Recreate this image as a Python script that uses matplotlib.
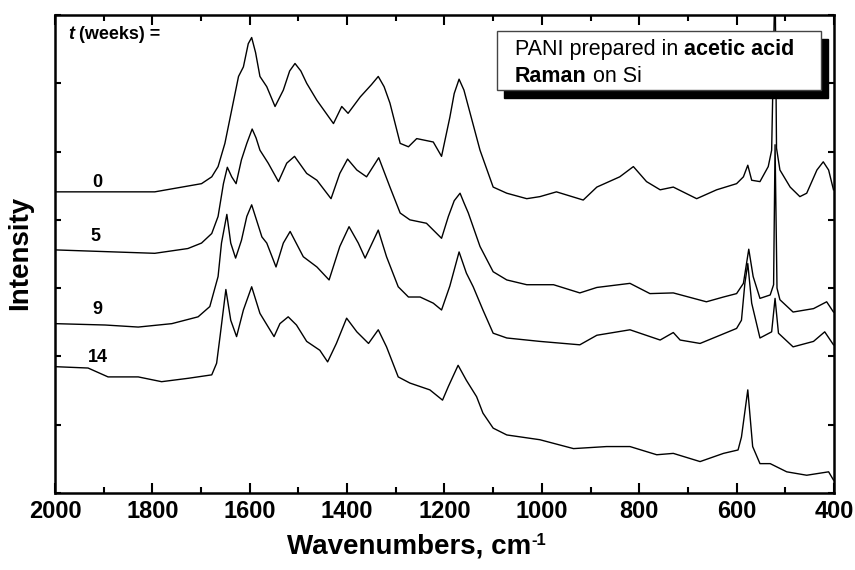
import matplotlib
matplotlib.use("Agg")
import matplotlib.pyplot as plt
from matplotlib.patches import Rectangle
from matplotlib.ticker import MultipleLocator

plt.rcParams['font.family'] = ['Liberation Sans', 'DejaVu Sans']

# Raman spectra (wavenumber, intensity in axis units)
w0 = [2000, 1795, 1699, 1678, 1665, 1651, 1637, 1623, 1613, 1603, 1596, 1588, 1579, 1565, 1548, 1531,
      1518, 1507, 1495, 1483, 1462, 1428, 1411, 1398, 1373, 1350, 1336, 1324, 1312, 1291, 1274, 1257,
      1223, 1206, 1189, 1180, 1170, 1160, 1151, 1127, 1100, 1072, 1031, 1004, 970, 915, 887, 840, 812,
      785, 757, 730, 682, 641, 600, 586, 577, 569, 552, 535, 528, 521, 518, 511, 490, 470, 456, 435,
      422, 411, 401]
i0 = [4.41, 4.41, 4.53, 4.63, 4.78, 5.12, 5.61, 6.10, 6.24, 6.58, 6.67, 6.45, 6.10, 5.95, 5.66, 5.90,
      6.18, 6.29, 6.18, 6.00, 5.75, 5.41, 5.66, 5.56, 5.80, 5.98, 6.10, 5.95, 5.71, 5.12, 5.07, 5.19,
      5.14, 4.93, 5.50, 5.85, 6.06, 5.90, 5.66, 5.02, 4.48, 4.39, 4.31, 4.34, 4.41, 4.29, 4.48, 4.63,
      4.78, 4.56, 4.44, 4.48, 4.31, 4.44, 4.53, 4.63, 4.80, 4.58, 4.56, 4.78, 5.02, 7.60, 5.05, 4.73,
      4.48, 4.34, 4.39, 4.73, 4.85, 4.73, 4.44]

w5 = [2000, 1795, 1727, 1699, 1678, 1665, 1654, 1646, 1637, 1628, 1617, 1606, 1595, 1587, 1579, 1562,
      1541, 1524, 1508, 1483, 1462, 1433, 1415, 1399, 1380, 1360, 1335, 1312, 1291, 1271, 1237, 1206,
      1192, 1180, 1168, 1160, 1151, 1127, 1100, 1072, 1031, 976, 922, 887, 819, 778, 730, 662, 627,
      600, 586, 575, 566, 552, 531, 524, 521, 517, 511, 484, 442, 415, 401]
i5 = [3.56, 3.51, 3.58, 3.66, 3.80, 4.05, 4.53, 4.77, 4.63, 4.53, 4.88, 5.12, 5.33, 5.20, 5.02, 4.83,
      4.56, 4.83, 4.93, 4.68, 4.58, 4.31, 4.68, 4.89, 4.73, 4.63, 4.91, 4.48, 4.10, 4.00, 3.95, 3.73,
      4.05, 4.28, 4.39, 4.25, 4.10, 3.61, 3.24, 3.12, 3.05, 3.05, 2.93, 3.01, 3.07, 2.92, 2.93, 2.80,
      2.87, 2.92, 3.07, 3.57, 3.17, 2.85, 2.90, 3.05, 5.10, 3.00, 2.83, 2.65, 2.70, 2.80, 2.65]

w9 = [2000, 1897, 1829, 1760, 1706, 1682, 1665, 1658, 1647, 1639, 1629, 1617, 1606, 1596, 1575, 1565,
      1546, 1531, 1517, 1490, 1462, 1437, 1415, 1396, 1377, 1363, 1336, 1319, 1295, 1274, 1250, 1223,
      1206, 1189, 1170, 1155, 1141, 1121, 1100, 1072, 1004, 922, 887, 819, 757, 730, 716, 675, 634,
      600, 590, 583, 577, 569, 552, 528, 521, 514, 484, 442, 419, 401]
i9 = [2.48, 2.46, 2.43, 2.48, 2.58, 2.73, 3.17, 3.66, 4.08, 3.66, 3.44, 3.70, 4.05, 4.22, 3.75, 3.66,
      3.31, 3.66, 3.83, 3.46, 3.31, 3.12, 3.61, 3.90, 3.66, 3.44, 3.85, 3.46, 3.02, 2.87, 2.87, 2.78,
      2.68, 3.03, 3.53, 3.22, 3.02, 2.68, 2.34, 2.27, 2.22, 2.17, 2.31, 2.39, 2.24, 2.35, 2.24, 2.19,
      2.31, 2.41, 2.53, 3.07, 3.36, 2.78, 2.27, 2.36, 2.85, 2.34, 2.14, 2.22, 2.36, 2.17]

w14 = [2000, 1932, 1891, 1829, 1781, 1726, 1678, 1668, 1661, 1649, 1639, 1627, 1613, 1596, 1579, 1550,
       1538, 1521, 1504, 1483, 1456, 1440, 1422, 1401, 1380, 1356, 1336, 1319, 1295, 1271, 1230, 1204,
       1192, 1172, 1155, 1134, 1121, 1100, 1072, 1004, 935, 867, 819, 764, 730, 675, 627, 597, 590,
       577, 567, 552, 531, 497, 456, 411, 401]
i14 = [1.85, 1.83, 1.70, 1.70, 1.63, 1.68, 1.73, 1.90, 2.29, 2.98, 2.53, 2.29, 2.68, 3.02, 2.63, 2.29,
       2.48, 2.58, 2.46, 2.22, 2.09, 1.92, 2.19, 2.56, 2.36, 2.19, 2.39, 2.14, 1.70, 1.61, 1.51, 1.36,
       1.56, 1.87, 1.65, 1.41, 1.17, 0.95, 0.85, 0.78, 0.65, 0.68, 0.68, 0.56, 0.58, 0.46, 0.58, 0.63,
       0.82, 1.51, 0.68, 0.43, 0.43, 0.31, 0.26, 0.31, 0.19]

weeks = ["0", "5", "9", "14"]
label_pos = [(1914, 4.54), (1916, 3.75), (1912, 2.68), (1912, 1.98)]

fig = plt.figure(figsize=(8.55, 5.7), dpi=100)
ax = fig.add_axes([0.0643, 0.1351, 0.9111, 0.8386])

for w, i in [(w0, i0), (w5, i5), (w9, i9), (w14, i14)]:
    ax.plot(w, i, color='black', lw=1.0)

for lab, (x, y) in zip(weeks, label_pos):
    ax.text(x, y, lab, ha='center', va='center', fontsize=13, fontweight='bold')

tt = ax.text(1973, 6.71, "t", ha='left', va='center', fontsize=13,
             fontweight='bold', fontstyle='italic')
ax.annotate(" (weeks) =", xy=(1, 0), xycoords=tt, ha='left', va='bottom',
            fontsize=13, fontweight='bold')

ax.set_xlim(2000, 400)
ax.set_ylim(0, 7)
ax.xaxis.set_major_locator(MultipleLocator(200))
ax.xaxis.set_minor_locator(MultipleLocator(100))
ax.yaxis.set_major_locator(MultipleLocator(1))
ax.tick_params(axis='x', which='major', direction='in', top=True, length=7, width=1.5,
               labelsize=17, pad=5)
ax.tick_params(axis='x', which='minor', direction='in', top=True, length=4, width=1.5)
ax.tick_params(axis='y', which='major', direction='in', right=True, length=4, width=1.5,
               labelleft=False)
for lbl in ax.get_xticklabels():
    lbl.set_fontweight('bold')
for sp in ax.spines.values():
    sp.set_linewidth(1.8)

# axis titles
xl = fig.text(287 / 855, 1 - 546 / 570, "Wavenumbers, cm", ha='left', va='center',
              fontsize=20, fontweight='bold')
ax.annotate("-1", xy=(1, 1.0), xycoords=xl, ha='left', va='top', fontsize=12, fontweight='bold')
fig.text(20 / 855, 1 - 253 / 570, "Intensity", rotation=90, ha='center', va='center',
         fontsize=20, fontweight='bold')

# note box with drop shadow
W, H = 855.0, 570.0
ax.add_patch(Rectangle((504 / W, 1 - 98 / H), 324 / W, 59 / H, transform=fig.transFigure,
                       facecolor='black', edgecolor='black', zorder=5, clip_on=False))
ax.add_patch(Rectangle((497 / W, 1 - 90 / H), 324 / W, 59 / H, transform=fig.transFigure,
                       facecolor='white', edgecolor='#444444', lw=1.0, zorder=6, clip_on=False))
t1 = fig.text(515 / W, 1 - 55 / H, "PANI prepared in ", fontsize=15.5, va='baseline', zorder=7)
ax.annotate("acetic acid", xy=(1, 0), xycoords=t1, va='bottom', ha='left',
            fontsize=15.5, fontweight='bold', zorder=7)
t2 = fig.text(515 / W, 1 - 81.5 / H, "Raman", fontsize=15.5, fontweight='bold', va='baseline', zorder=7)
ax.annotate(" on Si", xy=(1, 0), xycoords=t2, va='bottom', ha='left', fontsize=15.5, zorder=7)

fig.savefig("out.png", dpi=100)
